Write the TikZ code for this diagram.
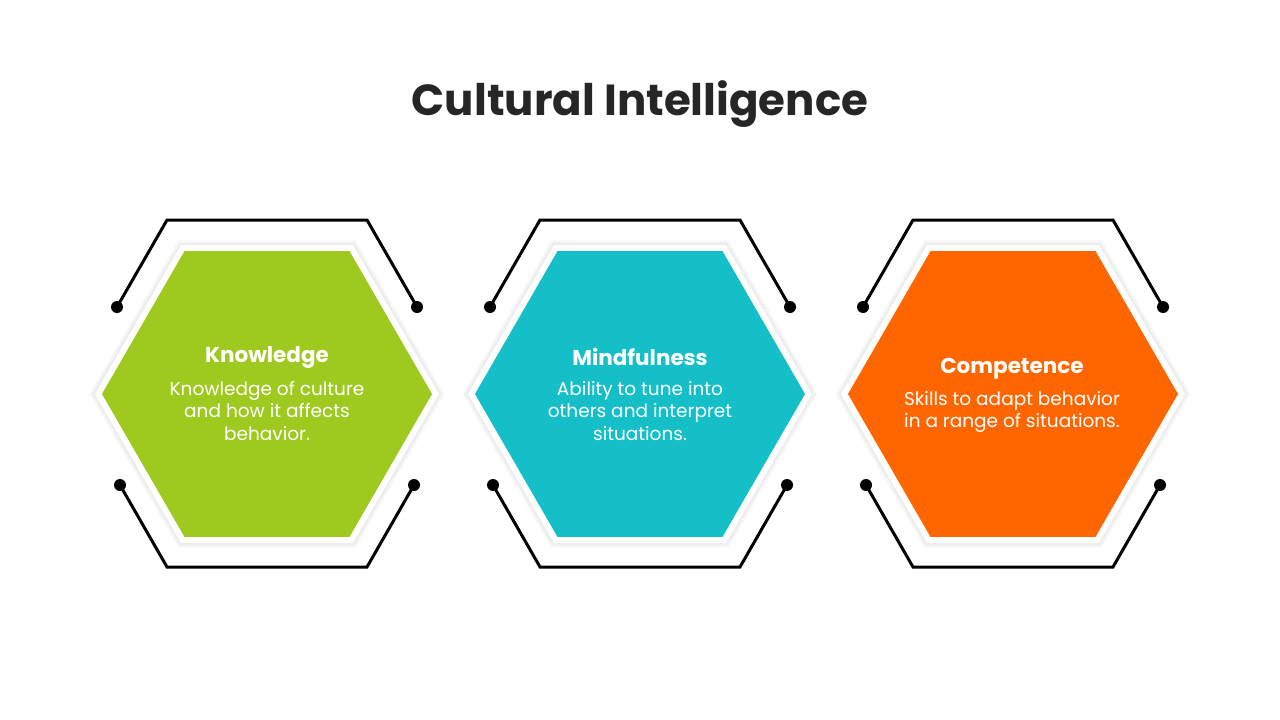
\documentclass[tikz,border=0pt]{standalone}
\usepackage{fontspec}
\setmainfont{Poppins}
\definecolor{titlec}{HTML}{262626}
\definecolor{cgreen}{HTML}{9ECA20}
\definecolor{cteal}{HTML}{14BFC8}
\definecolor{corange}{HTML}{FF6600}
\tikzset{
  bracket/.style={line width=3pt, black, line join=miter},
  dotend/.style={fill=black},
  headtext/.style={text=white, font=\fontsize{21.5}{24}\selectfont\bfseries, align=center},
  bodytext/.style={text=white, font=\fontsize{18.5}{22.5}\selectfont, align=center},
}
\newcommand{\hexpath}[3]{% cx, cy, R
  (#1-#3,#2) -- (#1-#3/2,#2-0.8660254*#3) -- (#1+#3/2,#2-0.8660254*#3) -- (#1+#3,#2) -- (#1+#3/2,#2+0.8660254*#3) -- (#1-#3/2,#2+0.8660254*#3) -- cycle}
\newcommand{\hexunit}[2]{% cx, color
  \fill[gray!7] \hexpath{#1}{394}{177};
  \fill[gray!14] \hexpath{#1}{394}{174.5};
  \fill[white] \hexpath{#1}{394}{172};
  \fill[#2] \hexpath{#1}{394}{165};
  \draw[bracket] (#1-150,307) -- (#1-100,220) -- (#1+100,220) -- (#1+150,307);
  \draw[bracket] (#1-147,485) -- (#1-100,567) -- (#1+100,567) -- (#1+147,485);
  \fill[dotend] (#1-150,307) circle (6);
  \fill[dotend] (#1+150,307) circle (6);
  \fill[dotend] (#1-147,485) circle (6);
  \fill[dotend] (#1+147,485) circle (6);
}
\begin{document}
\begin{tikzpicture}[x=1pt,y=-1pt]
\useasboundingbox (0,0) rectangle (1280,720);
\fill[white] (0,0) rectangle (1280,720);
\node[text=titlec, font=\fontsize{43.5}{48}\selectfont\bfseries] (title) at (640,104) {Cultural Intelligence};
\hexunit{267}{cgreen}
\hexunit{640}{cteal}
\hexunit{1013}{corange}
\node[headtext] (h1) at (267,357) {Knowledge};
\node[bodytext] (b1) at (267,411) {Knowledge of culture\\and how it affects\\behavior.};
\node[headtext] (h2) at (640,357) {Mindfulness};
\node[bodytext] (b2) at (640,411) {Ability to tune into\\others and interpret\\situations.};
\node[headtext] (h3) at (1012,369) {Competence};
\node[bodytext] (b3) at (1012,412) {Skills to adapt behavior\\in a range of situations.};
\end{tikzpicture}
\end{document}
